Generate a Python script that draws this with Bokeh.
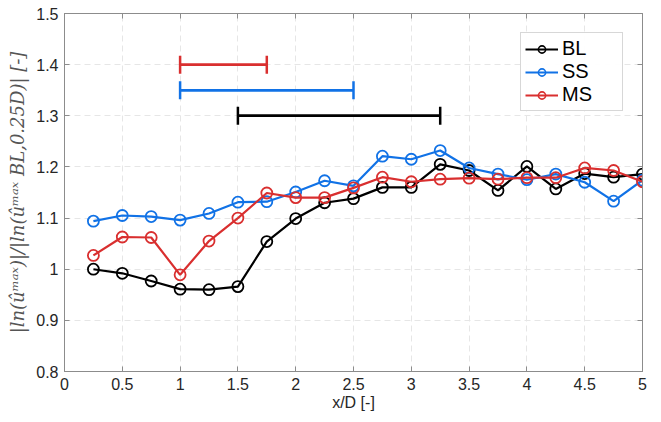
from bokeh.plotting import figure
from bokeh.models import Range1d, FixedTicker, LinearAxis, Legend, LegendItem, Whisker, ColumnDataSource, TeeHead
from bokeh.embed import file_html
from bokeh.resources import INLINE

x = [0.25, 0.5, 0.75, 1.0, 1.25, 1.5, 1.75, 2.0, 2.25, 2.5, 2.75, 3.0, 3.25, 3.5, 3.75, 4.0, 4.25, 4.5, 4.75, 5.0]
bl = [1.000, 0.992, 0.977, 0.961, 0.960, 0.966, 1.054, 1.099, 1.130, 1.138, 1.160, 1.160, 1.205, 1.193, 1.154, 1.201, 1.157, 1.187, 1.180, 1.186]
ss = [1.094, 1.105, 1.103, 1.096, 1.109, 1.131, 1.132, 1.151, 1.173, 1.163, 1.221, 1.215, 1.232, 1.198, 1.186, 1.175, 1.186, 1.170, 1.133, 1.174]
ms = [1.027, 1.063, 1.062, 0.989, 1.055, 1.100, 1.149, 1.140, 1.140, 1.159, 1.180, 1.171, 1.176, 1.178, 1.176, 1.179, 1.179, 1.198, 1.193, 1.171]

names = ["BL", "SS", "MS"]
colors = ["#000000", "#1172E6", "#D92F2F"]
range_y = [1.30, 1.35, 1.40]
range_lo = [1.5, 1.0, 1.0]
range_hi = [3.25, 2.5, 1.75]

xticks = [0, 0.5, 1, 1.5, 2, 2.5, 3, 3.5, 4, 4.5, 5]
yticks = [0.8, 0.9, 1.0, 1.1, 1.2, 1.3, 1.4, 1.5]

p = figure(width=653, height=414, output_backend="svg", toolbar_location=None,
           x_range=Range1d(0, 5), y_range=Range1d(0.8, 1.5),
           min_border_left=64, min_border_right=11, min_border_top=13, min_border_bottom=43)
p.background_fill_color = "white"
p.border_fill_color = "white"
p.outline_line_color = "#8c8c8c"
p.outline_line_width = 1

def fmt(v):
    return ("%g" % v)

for ax, ticks in ((p.xaxis[0], xticks), (p.yaxis[0], yticks)):
    ax.ticker = FixedTicker(ticks=ticks)
    ax.major_label_overrides = {t: fmt(t) for t in ticks}
    ax.minor_tick_line_color = None
    ax.major_tick_in = 5
    ax.major_tick_out = 0
    ax.axis_line_color = "#8c8c8c"
    ax.major_tick_line_color = "#8c8c8c"
    ax.major_label_text_font = "Liberation Sans"
    ax.major_label_text_font_size = "16px"
    ax.major_label_text_color = "#262626"
    ax.major_label_standoff = 6

p.xaxis.axis_label = "x/D [-]"
p.xaxis.axis_label_text_font = "Liberation Sans"
p.xaxis.axis_label_text_font_style = "normal"
p.xaxis.axis_label_text_font_size = "16px"
p.xaxis.axis_label_text_color = "#262626"
p.xaxis.axis_label_standoff = 1

p.yaxis.axis_label = "|ln(ûᵐᵃˣ)|/|ln(ûᵐᵃˣ BL,0.25D)| [-]"
p.yaxis.axis_label_text_font = "DejaVu Serif"
p.yaxis.axis_label_text_font_style = "italic"
p.yaxis.axis_label_text_font_size = "18px"
p.yaxis.axis_label_text_color = "#555555"
p.yaxis.axis_label_standoff = 5

for loc, ticks in (("right", yticks), ("above", xticks)):
    a = LinearAxis(ticker=FixedTicker(ticks=ticks), major_label_overrides={t: "" for t in ticks},
                   major_tick_in=5, major_tick_out=0, minor_tick_line_color=None,
                   axis_line_color="#8c8c8c", major_tick_line_color="#8c8c8c",
                   major_label_standoff=0, major_label_text_font_size="1px")
    p.add_layout(a, loc)

p.xgrid.ticker = FixedTicker(ticks=xticks)
p.ygrid.ticker = FixedTicker(ticks=yticks)
p.grid.grid_line_color = "#e6e6e6"
p.grid.grid_line_dash = "6 4"
p.grid.grid_line_width = 1

items = []
for name, ys, c in zip(names, [bl, ss, ms], colors):
    p.line(x, ys, line_color=c, line_width=2.2)
    p.scatter(x, ys, size=11, marker="circle", fill_color=None, line_color=c, line_width=1.8)
    lg1 = p.line([-10, -9], [0, 0], line_color=c, line_width=2.2)
    lg2 = p.scatter([-10], [0], size=7, marker="circle", fill_color=None, line_color=c, line_width=1.6)
    items.append(LegendItem(label=name, renderers=[lg1, lg2]))

src = ColumnDataSource(dict(base=range_y, lower=range_lo, upper=range_hi, color=colors))
p.segment(x0="lower", x1="upper", y0="base", y1="base", source=src, line_color="color", line_width=2.5)
w = Whisker(base="base", lower="lower", upper="upper", dimension="width", source=src,
            line_color="color", line_width=2.5,
            lower_head=TeeHead(size=18, line_color="color", line_width=2.5),
            upper_head=TeeHead(size=18, line_color="color", line_width=2.5))
p.add_layout(w)

legend = Legend(items=items, location="top_right")
legend.label_text_font = "Liberation Sans"
legend.label_text_font_size = "20px"
legend.label_text_line_height = 1.0
legend.label_text_color = "#000000"
legend.border_line_color = "#b0b0b0"
legend.border_line_width = 1
legend.glyph_width = 33
legend.glyph_height = 18
legend.label_height = 18
legend.label_width = 56
legend.spacing = 0
legend.padding = 4
legend.margin = 19
legend.label_standoff = 4
p.add_layout(legend)

open("out.html", "w").write(file_html(p, INLINE))
